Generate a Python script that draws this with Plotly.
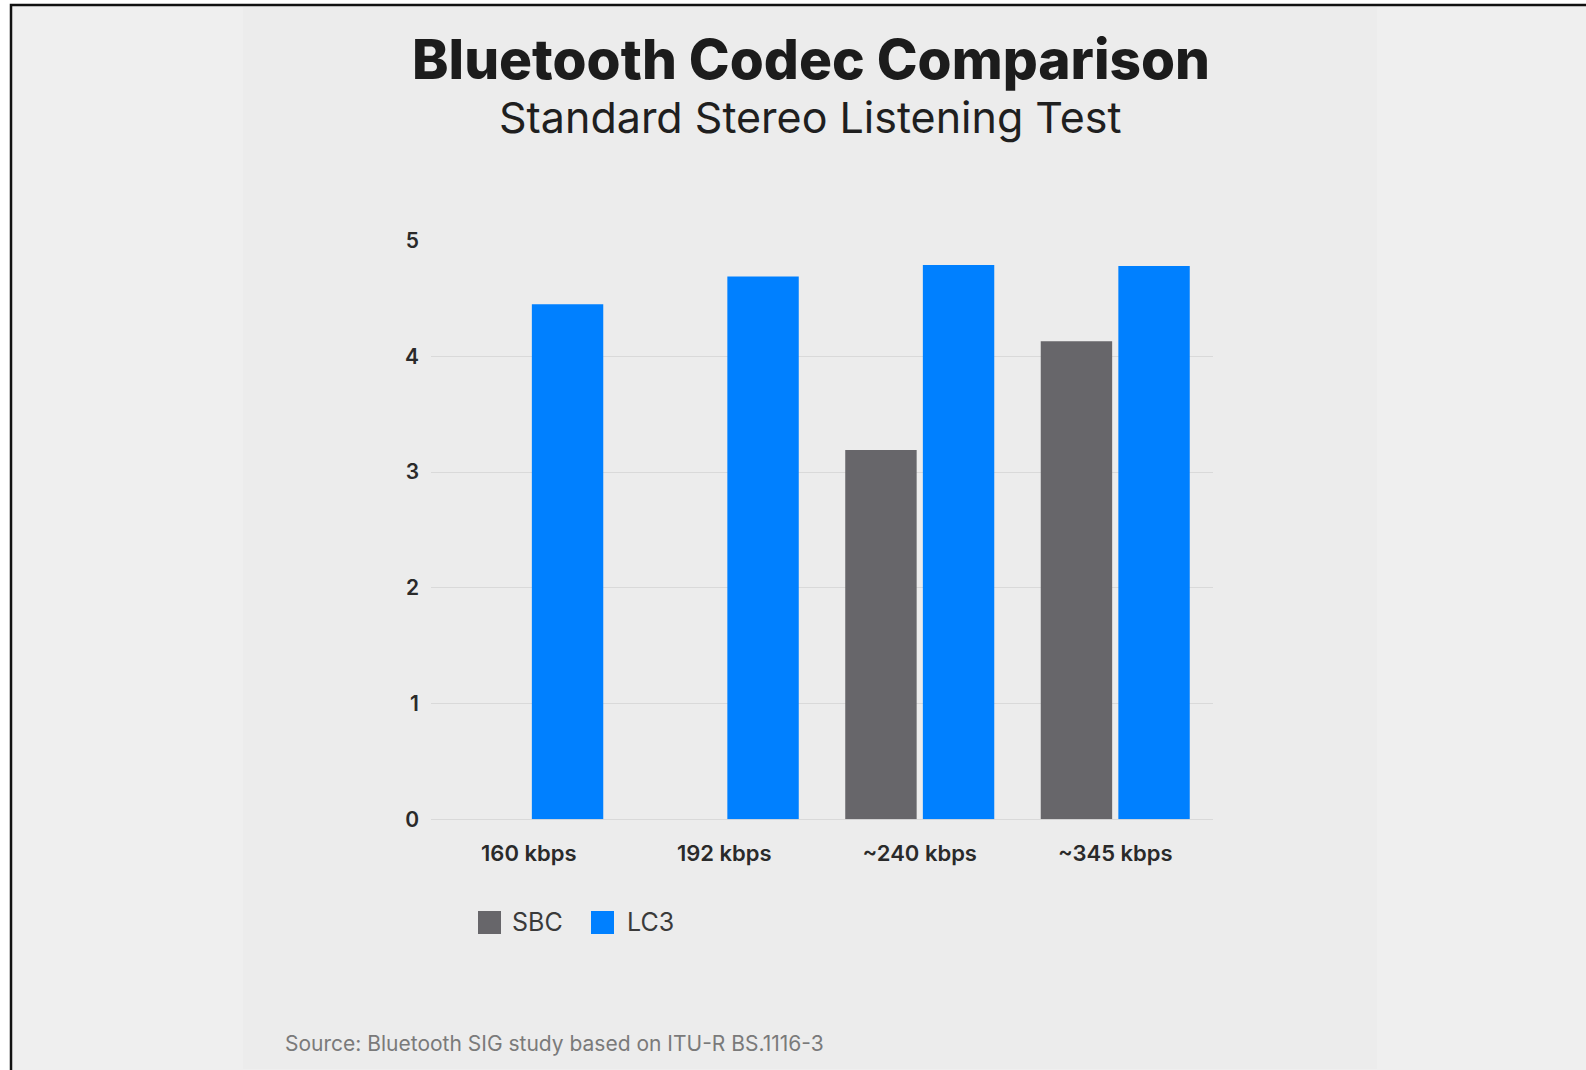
import plotly.graph_objects as go

# Listening-test scores (0–5 scale) per bitrate
categories = ["160 kbps", "192 kbps", "~240 kbps", "~345 kbps"]
sbc_scores = [None, None, 3.19, 4.13]
lc3_scores = [4.45, 4.69, 4.79, 4.78]
y_ticks = [0, 1, 2, 3, 4, 5]
series_names = ["SBC", "LC3"]

W, H = 1586, 1070


def px(x):
    return x / W


def py(y):
    return 1 - y / H


SBC_COLOR = "#67666a"
LC3_COLOR = "#0080ff"
FONT = "Inter"

fig = go.Figure()
fig.add_bar(x=categories, y=sbc_scores, name=series_names[0],
            marker=dict(color=SBC_COLOR, line_width=0))
fig.add_bar(x=categories, y=lc3_scores, name=series_names[1],
            marker=dict(color=LC3_COLOR, line_width=0))

# Hand-drawn legend: large square swatches with labels
legend_items = [
    (series_names[0], SBC_COLOR, 478, 510),
    (series_names[1], LC3_COLOR, 591, 625),
]
legend_shapes = []
legend_labels = []
for name, color, sx, tx in legend_items:
    legend_shapes.append(dict(type="rect", xref="paper", yref="paper",
                              x0=px(sx), x1=px(sx + 23), y0=py(934), y1=py(911),
                              fillcolor=color, line=dict(width=0), layer="above"))
    legend_labels.append(dict(text=name, xref="paper", yref="paper",
                              x=px(tx), y=py(922), xanchor="left", yanchor="middle",
                              showarrow=False,
                              font=dict(family=FONT, size=25, color="#3a3a3a")))

fig.update_layout(
    width=W, height=H,
    autosize=False,
    margin=dict(l=0, r=0, t=0, b=0, pad=0, autoexpand=False),
    paper_bgcolor="#ffffff",
    plot_bgcolor="rgba(0,0,0,0)",
    showlegend=False,
    barmode="group",
    bargap=0.206,
    bargroupgap=0.08,
    font=dict(family=FONT, color="#2a2a2a"),
    xaxis=dict(
        domain=[px(431), px(1213)],
        range=[-0.5, 3.5],
        showgrid=False, zeroline=False, showline=False,
        ticks="",
        tickfont=dict(size=22, color="#2a2a2a", weight=600),
        ticklabelstandoff=19,
        automargin=False,
        fixedrange=True,
    ),
    yaxis=dict(
        domain=[py(819.3), py(240.3)],
        range=[0, 5.003],
        tickvals=y_ticks,
        showgrid=True, gridcolor="#d9d9d9", gridwidth=1,
        zeroline=True, zerolinecolor="#d9d9d9", zerolinewidth=1,
        showline=False, ticks="",
        tickfont=dict(size=21, color="#2a2a2a", weight=600),
        ticklabelstandoff=11,
        automargin=False,
        fixedrange=True,
    ),
    shapes=[
        # page panel with the dark frame on its top and left edges
        dict(type="rect", xref="paper", yref="paper",
             x0=px(11), x1=px(1600), y0=py(1085), y1=py(5),
             fillcolor="#efefef", line=dict(color="#111111", width=2.5), layer="below"),
        # slightly darker card behind the chart
        dict(type="rect", xref="paper", yref="paper",
             x0=px(243), x1=px(1377), y0=py(1069), y1=py(7),
             fillcolor="#ececec", line=dict(width=0), layer="below"),
    ] + legend_shapes,
    annotations=[
        dict(text="Bluetooth Codec Comparison", xref="paper", yref="paper",
             x=px(811), y=py(59), xanchor="center", yanchor="middle", showarrow=False,
             font=dict(family=FONT, size=55, color="#1c1c1c", weight=800)),
        dict(text="Standard Stereo Listening Test", xref="paper", yref="paper",
             x=px(810), y=py(117), xanchor="center", yanchor="middle", showarrow=False,
             font=dict(family=FONT, size=43, color="#1f1f1f")),
        dict(text="Source: Bluetooth SIG study based on ITU-R BS.1116-3", xref="paper", yref="paper",
             x=px(283), y=py(1043), xanchor="left", yanchor="middle", showarrow=False,
             font=dict(family=FONT, size=21, color="#7a7a7a")),
    ] + legend_labels,
)

fig.write_html("out.html")
